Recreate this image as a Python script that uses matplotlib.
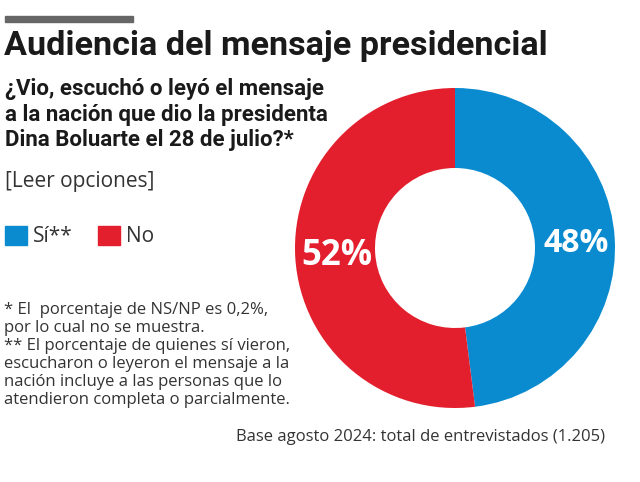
import matplotlib
matplotlib.use('Agg')
import matplotlib.pyplot as plt
import matplotlib.patches as mpatches

# data
categories = ['Sí**', 'No']
values = [48, 52]
labels = ['48%', '52%']
colors = ['#0a8bd0', '#e31e2d']

title = 'Audiencia del mensaje presidencial'
question = ['¿Vio, escuchó o leyó el mensaje',
            'a la nación que dio la presidenta',
            'Dina Boluarte el 28 de julio?*']
notes = ['* El  porcentaje de NS/NP es 0,2%,',
         'por lo cual no se muestra.',
         '** El porcentaje de quienes sí vieron,',
         'escucharon o leyeron el mensaje a la',
         'nación incluye a las personas que lo',
         'atendieron completa o parcialmente.']
source = 'Base agosto 2024: total de entrevistados (1.205)'

W, H = 640, 482
fig = plt.figure(figsize=(W / 100, H / 100), dpi=100)


def fx(x):
    return x / W


def fy(y):
    return 1 - y / H


# grey bar above title
fig.patches.append(mpatches.Rectangle((fx(5), fy(22)), fx(128), 6 / H,
                                      transform=fig.transFigure, color='#666666'))

fig.text(fx(4), fy(46), title, fontsize=24.6, fontweight='bold',
         family='Roboto', color='#1a1a1a', va='center', ha='left')

for i, line in enumerate(question):
    fig.text(fx(5), fy(89 + i * 25.5), line, fontsize=16, fontweight='bold',
             family='Roboto', color='#1a1a1a', va='center', ha='left')

fig.text(fx(5), fy(181), '[Leer opciones]', fontsize=15, family='Open Sans',
         color='#333333', va='center', ha='left')

# legend
leg_x = [5, 98]
for i, cat in enumerate(categories):
    fig.patches.append(mpatches.Rectangle((fx(leg_x[i]), fy(245)), fx(22), 19 / H,
                                          transform=fig.transFigure, color=colors[i]))
    fig.text(fx(leg_x[i] + 28), fy(236), cat, fontsize=15, family='Open Sans',
             color='#333333', va='center', ha='left')

for i, line in enumerate(notes):
    fig.text(fx(4), fy(310 + i * 18), line, fontsize=12, family='Open Sans',
             color='#333333', va='center', ha='left')

fig.text(fx(605), fy(437), source, fontsize=12, family='Open Sans',
         color='#333333', va='center', ha='right')

# donut
ax = fig.add_axes([fx(295), fy(408), 320 / W, 320 / H])
wedges, _ = ax.pie(values, colors=colors, startangle=90, counterclock=False,
                   radius=1, wedgeprops=dict(width=0.5, linewidth=0))
ax.set_xlim(-1, 1)
ax.set_ylim(-1, 1)
ax.set_aspect('equal')
ax.axis('off')

label_pos = [(0.76, 0.03), (-0.74, -0.05)]
label_size = [23, 25]
for (x, y), lab, fs in zip(label_pos, labels, label_size):
    ax.text(x, y, lab, fontsize=fs, fontweight='bold', family='Open Sans',
            color='white', ha='center', va='center')

fig.savefig('out.png', dpi=100)
